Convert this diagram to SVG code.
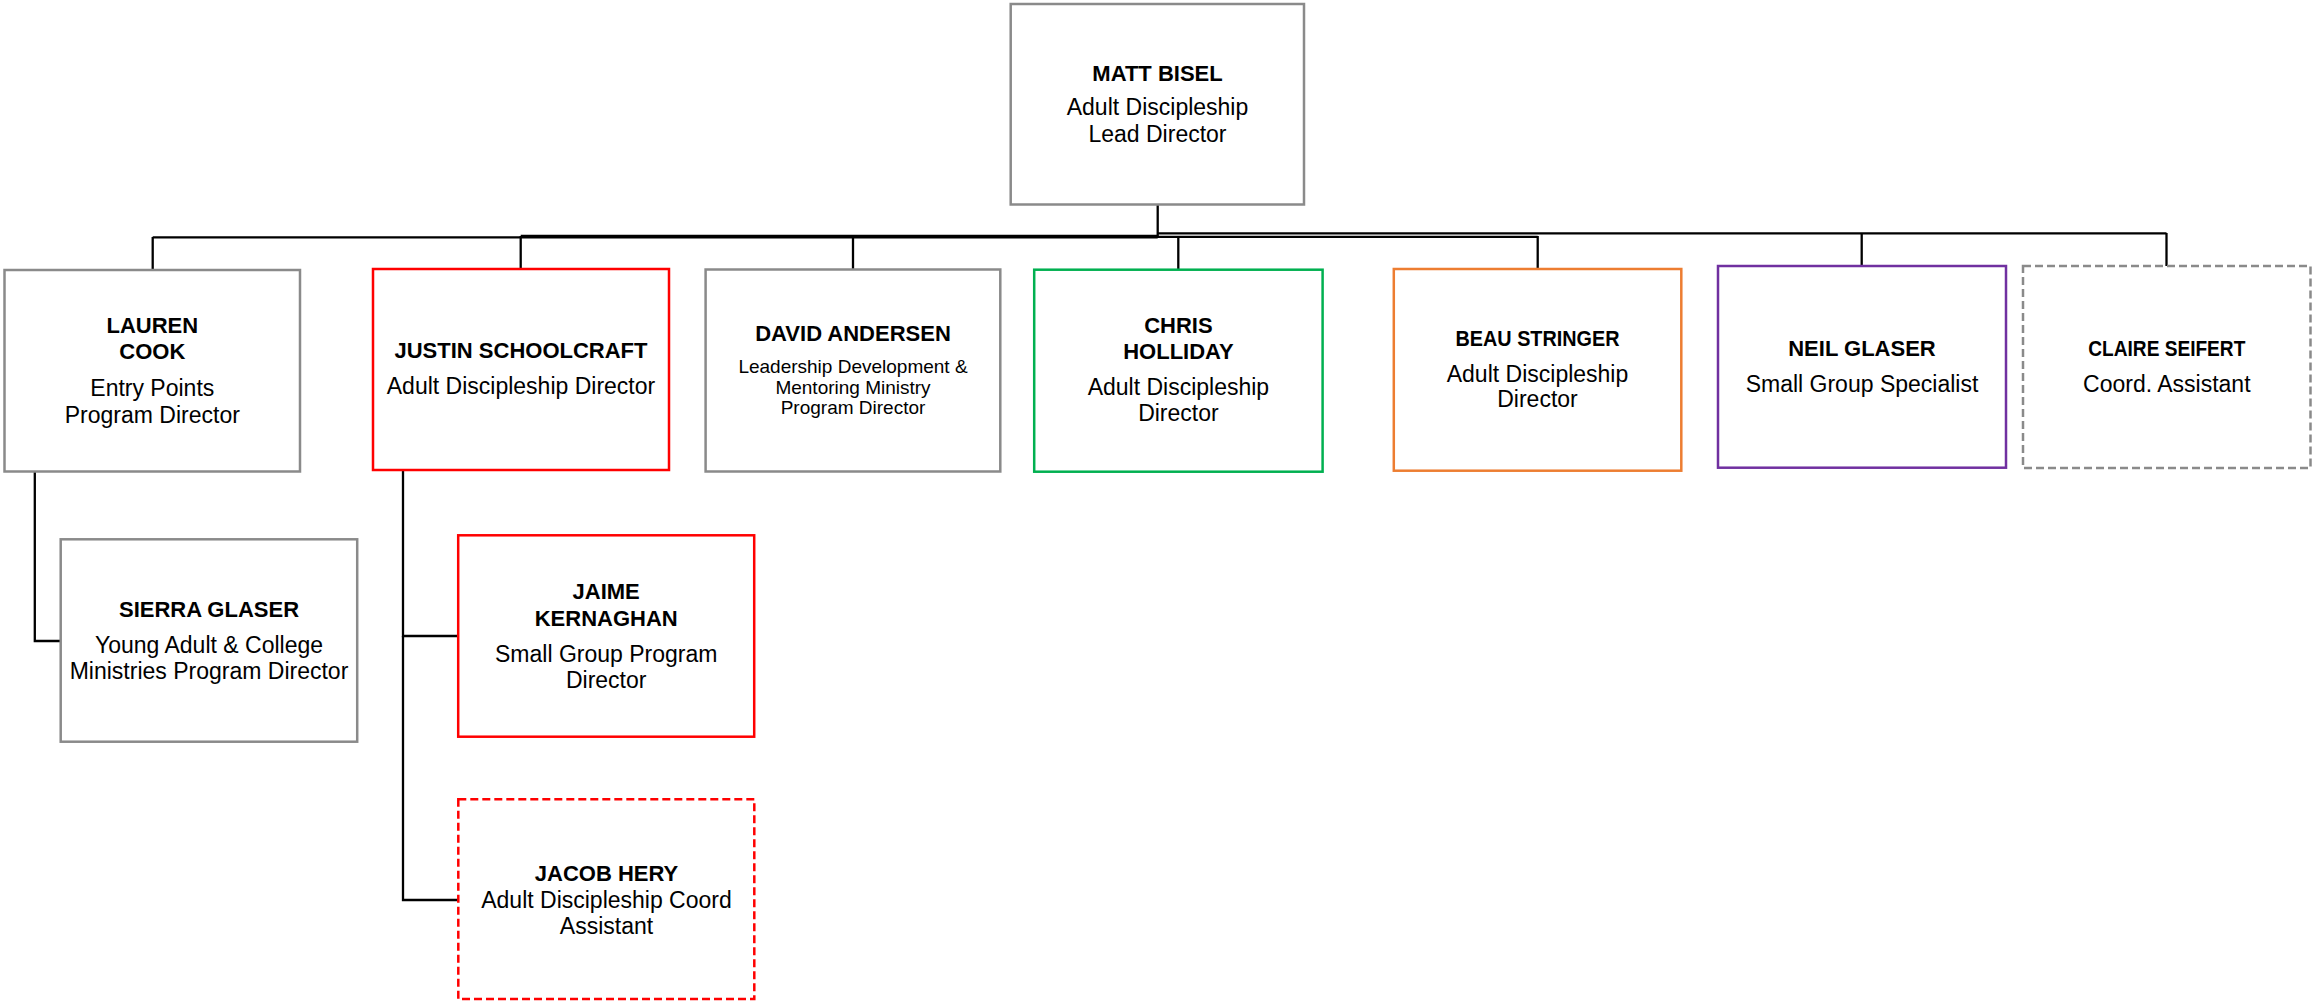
<svg xmlns="http://www.w3.org/2000/svg" width="2323" height="1001" viewBox="0 0 2323 1001">
<style>
.box{fill:#ffffff;stroke-width:2.5}
.gray{stroke:#8a8a8a}
.red{stroke:#ff0000}
.green{stroke:#00b050}
.orange{stroke:#ed7d31}
.purple{stroke:#7030a0}
.dash{stroke-dasharray:8 4}
.conn{fill:none;stroke:#000000;stroke-width:2.3}
.name{font-family:"Liberation Sans",Arial,sans-serif;font-weight:bold;font-size:22px;fill:#000;text-anchor:middle}
.title{font-family:"Liberation Sans",Arial,sans-serif;font-size:23px;fill:#000;text-anchor:middle}
.small{font-family:"Liberation Sans",Arial,sans-serif;font-size:19px;fill:#000;text-anchor:middle}
</style>
<rect width="2323" height="1001" fill="#ffffff"/>
<g id="connectors">
<path class="conn" d="M1157.7 205 V238"/>
<path class="conn" d="M152.7 237.3 H1157.7"/>
<path class="conn" d="M520.7 235.8 H1157.7"/>
<path class="conn" d="M1157.7 236.8 H1537.7"/>
<path class="conn" d="M1157.7 233.3 H2166.5"/>
<path class="conn" d="M152.7 237 V270"/>
<path class="conn" d="M520.7 236 V269"/>
<path class="conn" d="M853 236 V269.5"/>
<path class="conn" d="M1178.3 237 V269.7"/>
<path class="conn" d="M1537.7 236 V269"/>
<path class="conn" d="M1861.7 233 V266"/>
<path class="conn" d="M2166.5 233 V266"/>
<path class="conn" d="M34.8 471.5 V641 H60.7"/>
<path class="conn" d="M403 470 V636 H458.2"/>
<path class="conn" d="M403 636 V900 H458.3"/>
</g>
<g id="matt-bisel">
<rect class="box gray" x="1010.7" y="4" width="293.3" height="200.5"/>
<text class="name" x="1157.5" y="81">MATT BISEL</text>
<text class="title" x="1157.5" y="115">Adult Discipleship</text>
<text class="title" x="1157.5" y="142">Lead Director</text>
</g>
<g id="lauren-cook">
<rect class="box gray" x="4.5" y="270" width="295.5" height="201.5"/>
<text class="name" x="152.3" y="333">LAUREN</text>
<text class="name" x="152.3" y="359">COOK</text>
<text class="title" x="152.3" y="396">Entry Points</text>
<text class="title" x="152.3" y="423">Program Director</text>
</g>
<g id="justin-schoolcraft">
<rect class="box red" x="373" y="269" width="296" height="201"/>
<text class="name" x="521" y="358.3">JUSTIN SCHOOLCRAFT</text>
<text class="title" x="521" y="394.3">Adult Discipleship Director</text>
</g>
<g id="david-andersen">
<rect class="box gray" x="705.6" y="269.5" width="294.7" height="202"/>
<text class="name" x="853" y="340.7">DAVID ANDERSEN</text>
<text class="small" x="853" y="373">Leadership Development &amp;</text>
<text class="small" x="853" y="394">Mentoring Ministry</text>
<text class="small" x="853" y="414">Program Director</text>
</g>
<g id="chris-holliday">
<rect class="box green" x="1034.2" y="269.7" width="288.4" height="202"/>
<text class="name" x="1178.4" y="333.3">CHRIS</text>
<text class="name" x="1178.4" y="359.3">HOLLIDAY</text>
<text class="title" x="1178.4" y="395">Adult Discipleship</text>
<text class="title" x="1178.4" y="420.7">Director</text>
</g>
<g id="beau-stringer">
<rect class="box orange" x="1393.8" y="269" width="287.5" height="201.7"/>
<text class="name" x="1537.5" y="345.7" textLength="164" lengthAdjust="spacingAndGlyphs">BEAU STRINGER</text>
<text class="title" x="1537.5" y="381.7">Adult Discipleship</text>
<text class="title" x="1537.5" y="406.7">Director</text>
</g>
<g id="neil-glaser">
<rect class="box purple" x="1718" y="266" width="288" height="201.7"/>
<text class="name" x="1862" y="355.7">NEIL GLASER</text>
<text class="title" x="1862" y="392">Small Group Specialist</text>
</g>
<g id="claire-seifert">
<rect class="box gray dash" x="2023" y="266" width="287.5" height="202"/>
<text class="name" x="2166.8" y="355.7" textLength="157" lengthAdjust="spacingAndGlyphs">CLAIRE SEIFERT</text>
<text class="title" x="2166.8" y="392">Coord. Assistant</text>
</g>
<g id="sierra-glaser">
<rect class="box gray" x="60.7" y="539.3" width="296.5" height="202.4"/>
<text class="name" x="209" y="616.7">SIERRA GLASER</text>
<text class="title" x="209" y="653.3">Young Adult &amp; College</text>
<text class="title" x="209" y="679.3">Ministries Program Director</text>
</g>
<g id="jaime-kernaghan">
<rect class="box red" x="458.2" y="535.3" width="296" height="201.4"/>
<text class="name" x="606.2" y="599">JAIME</text>
<text class="name" x="606.2" y="625.7">KERNAGHAN</text>
<text class="title" x="606.2" y="661.7">Small Group Program</text>
<text class="title" x="606.2" y="687.7">Director</text>
</g>
<g id="jacob-hery">
<rect class="box red dash" x="458.3" y="799.3" width="296" height="199.7"/>
<text class="name" x="606.5" y="880.7">JACOB HERY</text>
<text class="title" x="606.5" y="907.7">Adult Discipleship Coord</text>
<text class="title" x="606.5" y="934">Assistant</text>
</g>
</svg>
